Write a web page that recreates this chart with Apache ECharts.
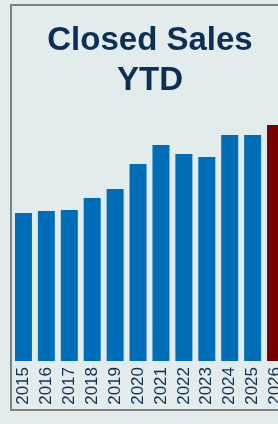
<!DOCTYPE html>
<html>
<head>
<meta charset="utf-8">
<script src="https://cdn.jsdelivr.net/npm/echarts@6/dist/echarts.min.js"></script>
<style>
  html, body { margin: 0; padding: 0; background: #e3eced; overflow: hidden; }
  #chart { width: 300px; height: 424px; }
</style>
</head>
<body>
<div id="chart"></div>
<script>
const years = ['2015', '2016', '2017', '2018', '2019', '2020', '2021', '2022', '2023', '2024', '2025', '2026'];
const sales = [1480, 1500, 1510, 1630, 1720, 1970, 2160, 2070, 2040, 2260, 2260, 2360];
const currentYear = '2026';

const blue = '#006eb7';
const red = '#760000';

const myChart = echarts.init(document.getElementById('chart'));

const option = {
  backgroundColor: '#e3eced',
  animation: false,
  title: {
    text: 'Closed Sales\nYTD',
    left: 'center',
    top: 16,
    textStyle: {
      fontFamily: 'Liberation Sans, Arial, sans-serif',
      fontSize: 33,
      fontWeight: 'bold',
      lineHeight: 40,
      color: '#0d2f52'
    }
  },
  graphic: [{
    type: 'rect',
    shape: { x: 11, y: 5, width: 286, height: 405 },
    style: { fill: 'none', stroke: '#7f7f7f', lineWidth: 2 },
    z: 0
  }],
  grid: { left: 12, right: 13, top: 100, bottom: 63 },
  xAxis: {
    type: 'category',
    data: years,
    axisLine: { show: false },
    axisTick: { show: false },
    axisLabel: {
      rotate: 90,
      margin: 6,
      interval: 0,
      fontFamily: 'Liberation Sans, Arial, sans-serif',
      fontSize: 17,
      color: '#0f2f50'
    }
  },
  yAxis: {
    type: 'value',
    min: 0,
    max: 2610,
    show: false
  },
  series: [{
    type: 'bar',
    barWidth: 17,
    data: sales.map((v, i) => ({
      value: v,
      itemStyle: { color: years[i] === currentYear ? red : blue }
    }))
  }]
};

myChart.setOption(option);
</script>
</body>
</html>
